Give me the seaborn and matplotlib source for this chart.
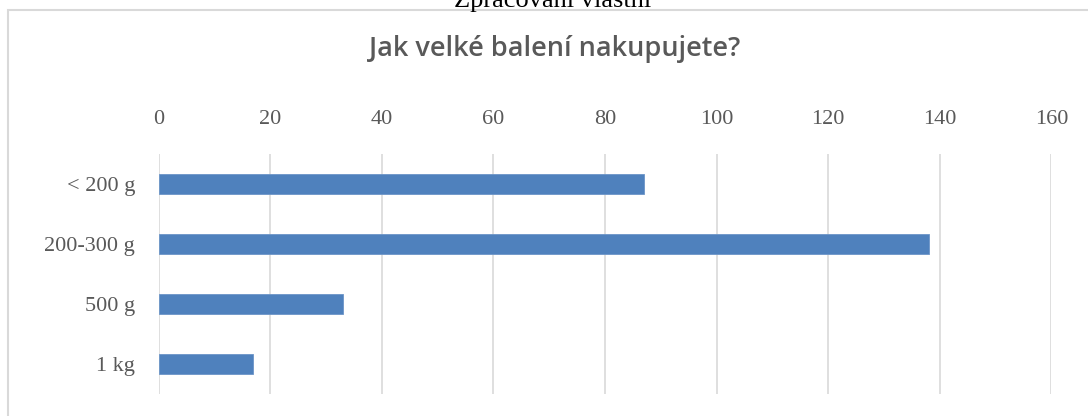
import matplotlib
matplotlib.use("Agg")
import matplotlib.pyplot as plt
import seaborn as sns
import pandas as pd
from matplotlib.patches import Rectangle

categories = ["< 200 g", "200-300 g", "500 g", "1 kg"]
values = [87, 138, 33, 17]
xticks = [0, 20, 40, 60, 80, 100, 120, 140, 160]
title = "Jak velké balení nakupujete?"
caption = "Zpracování vlastní"

sns.set_theme(style="white")
plt.rcParams["font.family"] = ["Liberation Serif", "DejaVu Serif"]

df = pd.DataFrame({"cat": categories, "val": values})

fig = plt.figure(figsize=(10.88, 4.16), dpi=100)
ax = fig.add_axes([158.6 / 1088, 1 - 394 / 416, (1051.4 - 158.6) / 1088, 240 / 416])

sns.barplot(data=df, x="val", y="cat", orient="h", color="#4F81BD", saturation=1,
            width=1 / 3, ax=ax, edgecolor="#6C95C8", linewidth=0.6)

ax.set_xlim(0, 160)
ax.set_ylim(3.5, -0.5)
ax.set_xticks(xticks)
ax.set_xticklabels([str(t) for t in xticks])
ax.xaxis.tick_top()
ax.tick_params(axis="x", length=0, pad=18, labelsize=16, labelcolor="#595959")
ax.tick_params(axis="y", length=0, pad=17, labelsize=16, labelcolor="#595959")
ax.grid(axis="x", color="#D9D9D9", linewidth=1.2)
ax.set_axisbelow(True)
for s in ax.spines.values():
    s.set_visible(False)
ax.set_xlabel("")
ax.set_ylabel("")

fig.text(555 / 1088, 1 - 49 / 416, title, ha="center", va="center",
         fontsize=19.5, color="#595959", fontweight="semibold",
         family=["Open Sans", "DejaVu Sans"])
fig.text(553 / 1088, 1 - 7 / 416, caption, ha="center", va="baseline",
         fontsize=19, color="#000000")

fig.patches.append(Rectangle((8 / 1088, -0.2), 1.2, 1.2 - 10 / 416, transform=fig.transFigure,
                             fill=False, edgecolor="#D9D9D9", linewidth=1.5, zorder=0))

fig.savefig("out.png", dpi=100)
